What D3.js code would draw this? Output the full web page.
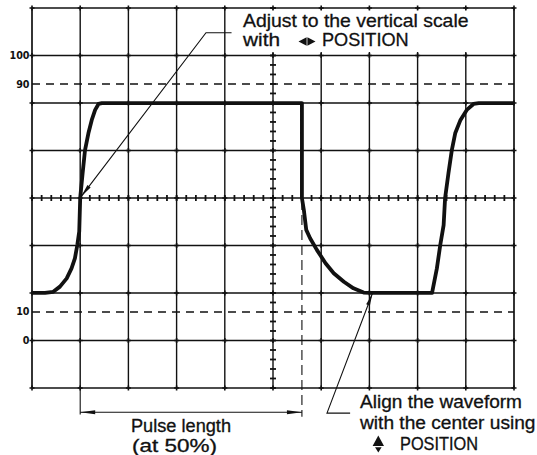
<!DOCTYPE html>
<html>
<head>
<meta charset="utf-8">
<script src="https://d3js.org/d3.v7.min.js"></script>
<style>
html,body{margin:0;padding:0;background:#fff;}
svg{display:block;}
</style>
</head>
<body>
<svg id="chart" width="537" height="455"></svg>
<script>
// ---------- data (x in graticule divisions, y in percent of amplitude) ----------
const xDivisions = [0, 1, 2, 3, 4, 5, 6, 7, 8, 9, 10];
const yGridPercent = [-16.67, 0, 16.67, 33.33, 50, 66.67, 83.33, 100, 116.67];
const yTickLabels = [0, 10, 90, 100];
const dashedLevels = [10, 90];
const minorPerDivision = 5;

const waveX = [0, 0.27, 0.44, 0.58, 0.72, 0.82, 0.89, 0.94, 0.98, 1.00, 1.05, 1.10, 1.17, 1.24, 1.31, 1.38, 1.45,
               5.60, 5.60, 5.64, 5.69, 5.77, 5.91, 6.09, 6.26, 6.47, 6.67, 6.88, 7.02,
               8.30, 8.40, 8.47, 8.54, 8.57, 8.64, 8.71, 8.78, 8.89, 9.02, 9.16, 9.27, 10];
const waveY = [16.7, 16.7, 17.1, 18.9, 21.8, 25.3, 28.8, 33.5, 38.2, 50.0, 58.7, 66.8, 72.7, 77.4, 80.9, 83.0, 83.3,
               83.3, 50.0, 45.8, 38.8, 35.9, 31.8, 27.1, 23.6, 20.6, 18.3, 16.8, 16.7,
               16.7, 25.3, 33.5, 40.5, 49.9, 58.7, 66.8, 72.7, 77.4, 80.9, 83.0, 83.3, 83.3];

// annotations (same units)
const pulseStartX = 1.0, pulseEndX = 5.6;
const bracketLevel = -25.2, bracketBottom = -26.0, dashBottom = -26.8;
const adjustLeaderX = [4.14, 3.61, 1.02];
const adjustLeaderY = [108, 108, 50.5];
const alignLeaderX = [6.60, 6.12, 7.06];
const alignLeaderY = [-25.5, -25.5, 16.4];

// ---------- layout ----------
const svg = d3.select("#chart");
const x = d3.scaleLinear().domain([0, 10]).range([32, 514]);
const y = d3.scaleLinear().domain([yGridPercent[0], yGridPercent[yGridPercent.length - 1]]).range([388, 8]);
const ink = "#111";
const textFont = "'Liberation Sans', Arial, Helvetica, sans-serif";

// grid
const g = svg.append("g");
g.selectAll("line.v").data(xDivisions).join("line")
  .attr("x1", d => x(d)).attr("x2", d => x(d))
  .attr("y1", y.range()[1]).attr("y2", y.range()[0])
  .attr("stroke", ink).attr("stroke-width", d => (d === 0 || d === 10) ? 1.7 : 1.4);
g.selectAll("line.h").data(yGridPercent).join("line")
  .attr("x1", x(0)).attr("x2", x(10))
  .attr("y1", d => y(d)).attr("y2", d => y(d))
  .attr("stroke", ink).attr("stroke-width", (d, i) => (i === 0 || i === yGridPercent.length - 1) ? 1.7 : 1.4);

// dashed 10 / 90 lines
g.selectAll("line.dash").data(dashedLevels).join("line")
  .attr("x1", x(0)).attr("x2", x(10))
  .attr("y1", d => y(d)).attr("y2", d => y(d))
  .attr("stroke", ink).attr("stroke-width", 1.3).attr("stroke-dasharray", "8,6");

// minor ticks on the center axes
const hMinor = d3.range(0, 10 * minorPerDivision + 1).map(i => i / minorPerDivision);
g.selectAll("line.hm").data(hMinor).join("line")
  .attr("x1", d => x(d)).attr("x2", d => x(d))
  .attr("y1", y(50) - 3).attr("y2", y(50) + 3)
  .attr("stroke", ink).attr("stroke-width", 1.8);
const yStep = yGridPercent[1] - yGridPercent[0];
const vMinor = d3.range(0, 8 * minorPerDivision + 1).map(i => yGridPercent[0] + i * yStep / minorPerDivision);
g.selectAll("line.vm").data(vMinor).join("line")
  .attr("x1", x(5) - 3).attr("x2", x(5) + 3)
  .attr("y1", d => y(d)).attr("y2", d => y(d))
  .attr("stroke", ink).attr("stroke-width", 1.8);

// white label box over the top-right grid cells
g.append("rect")
  .attr("x", x(4) + 1.2).attr("y", y.range()[1] + 1.5)
  .attr("width", x(10) - x(4) - 2.2).attr("height", y(100) - y.range()[1] - 5)
  .attr("fill", "#fff");

// intersection marks
const inter = [];
xDivisions.forEach(a => yGridPercent.forEach(b => inter.push([a, b])));
g.selectAll("path.cross").data(inter).join("path")
  .attr("d", d => `M${x(d[0]) - 2.5},${y(d[1])}h5M${x(d[0])},${y(d[1]) - 2.5}v5`)
  .attr("stroke", ink).attr("stroke-width", 1.6);

// y labels
svg.selectAll("text.yl").data(yTickLabels).join("text")
  .attr("x", x(0) - 2.5).attr("y", d => y(d) + 3.5)
  .attr("text-anchor", "end")
  .attr("font-family", "'DejaVu Sans', sans-serif").attr("font-weight", "bold")
  .attr("font-size", 9.6).attr("fill", ink)
  .text(d => d);

// waveform
const wave = waveX.map((d, i) => [d, waveY[i]]);
svg.append("path").datum(wave)
  .attr("d", d3.line().x(d => x(d[0])).y(d => y(d[1])))
  .attr("fill", "none").attr("stroke", ink).attr("stroke-width", 3.8)
  .attr("stroke-linejoin", "round");

// helper: elongated arrowhead with tip at (tx,ty) coming from (fx,fy)
function arrowHead(fx, fy, tx, ty, len, hw) {
  const dx = tx - fx, dy = ty - fy, L = Math.hypot(dx, dy);
  const ux = dx / L, uy = dy / L;
  const bx = tx - ux * len, by = ty - uy * len;
  svg.append("path")
    .attr("d", `M${tx},${ty}L${bx - uy * hw},${by + ux * hw}L${bx + uy * hw},${by - ux * hw}Z`)
    .attr("fill", ink);
}

// leader: Adjust ...
const adjPts = adjustLeaderX.map((d, i) => [x(d), y(adjustLeaderY[i])]);
svg.append("path").attr("d", d3.line()(adjPts))
  .attr("fill", "none").attr("stroke", ink).attr("stroke-width", 1.1);
arrowHead(adjPts[1][0], adjPts[1][1], adjPts[2][0], adjPts[2][1], 13, 2);

// leader: Align ...
const alPts = alignLeaderX.map((d, i) => [x(d), y(alignLeaderY[i])]);
svg.append("path").attr("d", d3.line()(alPts))
  .attr("fill", "none").attr("stroke", ink).attr("stroke-width", 1.1);
arrowHead(alPts[1][0], alPts[1][1], alPts[2][0], alPts[2][1], 12, 2);

// pulse-length bracket
svg.append("line")
  .attr("x1", x(pulseStartX)).attr("x2", x(pulseStartX))
  .attr("y1", y.range()[0]).attr("y2", y(bracketBottom))
  .attr("stroke", ink).attr("stroke-width", 1.1);
svg.append("line")
  .attr("x1", x(pulseEndX)).attr("x2", x(pulseEndX))
  .attr("y1", y(50) + 2).attr("y2", y(dashBottom))
  .attr("stroke", ink).attr("stroke-width", 1.1).attr("stroke-dasharray", "10,5");
svg.append("line")
  .attr("x1", x(pulseStartX)).attr("x2", x(pulseEndX))
  .attr("y1", y(bracketLevel)).attr("y2", y(bracketLevel))
  .attr("stroke", ink).attr("stroke-width", 1.1);
arrowHead(x(pulseStartX) + 20, y(bracketLevel), x(pulseStartX), y(bracketLevel), 15, 2);
arrowHead(x(pulseEndX) - 20, y(bracketLevel), x(pulseEndX), y(bracketLevel), 15, 2);

// text
function txt(s, tx, ty, size, len) {
  const t = svg.append("text")
    .attr("x", tx).attr("y", ty)
    .attr("font-family", textFont).attr("font-size", size).attr("fill", ink)
    .attr("stroke", ink).attr("stroke-width", 0.3)
    .text(s);
  if (len) t.attr("textLength", len).attr("lengthAdjust", "spacingAndGlyphs");
  return t;
}
// small control-knob symbols drawn as triangles
function tri(pts) {
  svg.append("path").attr("d", "M" + pts.map(p => p.join(",")).join("L") + "Z").attr("fill", ink);
}

txt("Adjust to the vertical scale", 243, 26.7, 18.5, 225.5);
txt("with", 243, 46, 18.5, 37);
tri([[298.5, 41.5], [306.6, 37.2], [306.6, 45.8]]);   // ◄
tri([[315.5, 41.5], [307.4, 37.2], [307.4, 45.8]]);   // ►
txt("POSITION", 322, 46, 18.5, 86.7);

txt("Pulse length", 131, 431.7, 17.5, 100);
txt("(at 50%)", 132, 451.5, 17.5, 85);

txt("Align the waveform", 360, 408, 17.5, 162);
txt("with the center using", 360, 429, 17.5, 175.5);
tri([[378.3, 435.6], [372.6, 446], [384, 446]]);      // ▲
tri([[375, 447.2], [381.6, 447.2], [378.3, 452.4]]);  // small ▼
txt("POSITION", 400, 449.5, 17.5, 78);
</script>
</body>
</html>
